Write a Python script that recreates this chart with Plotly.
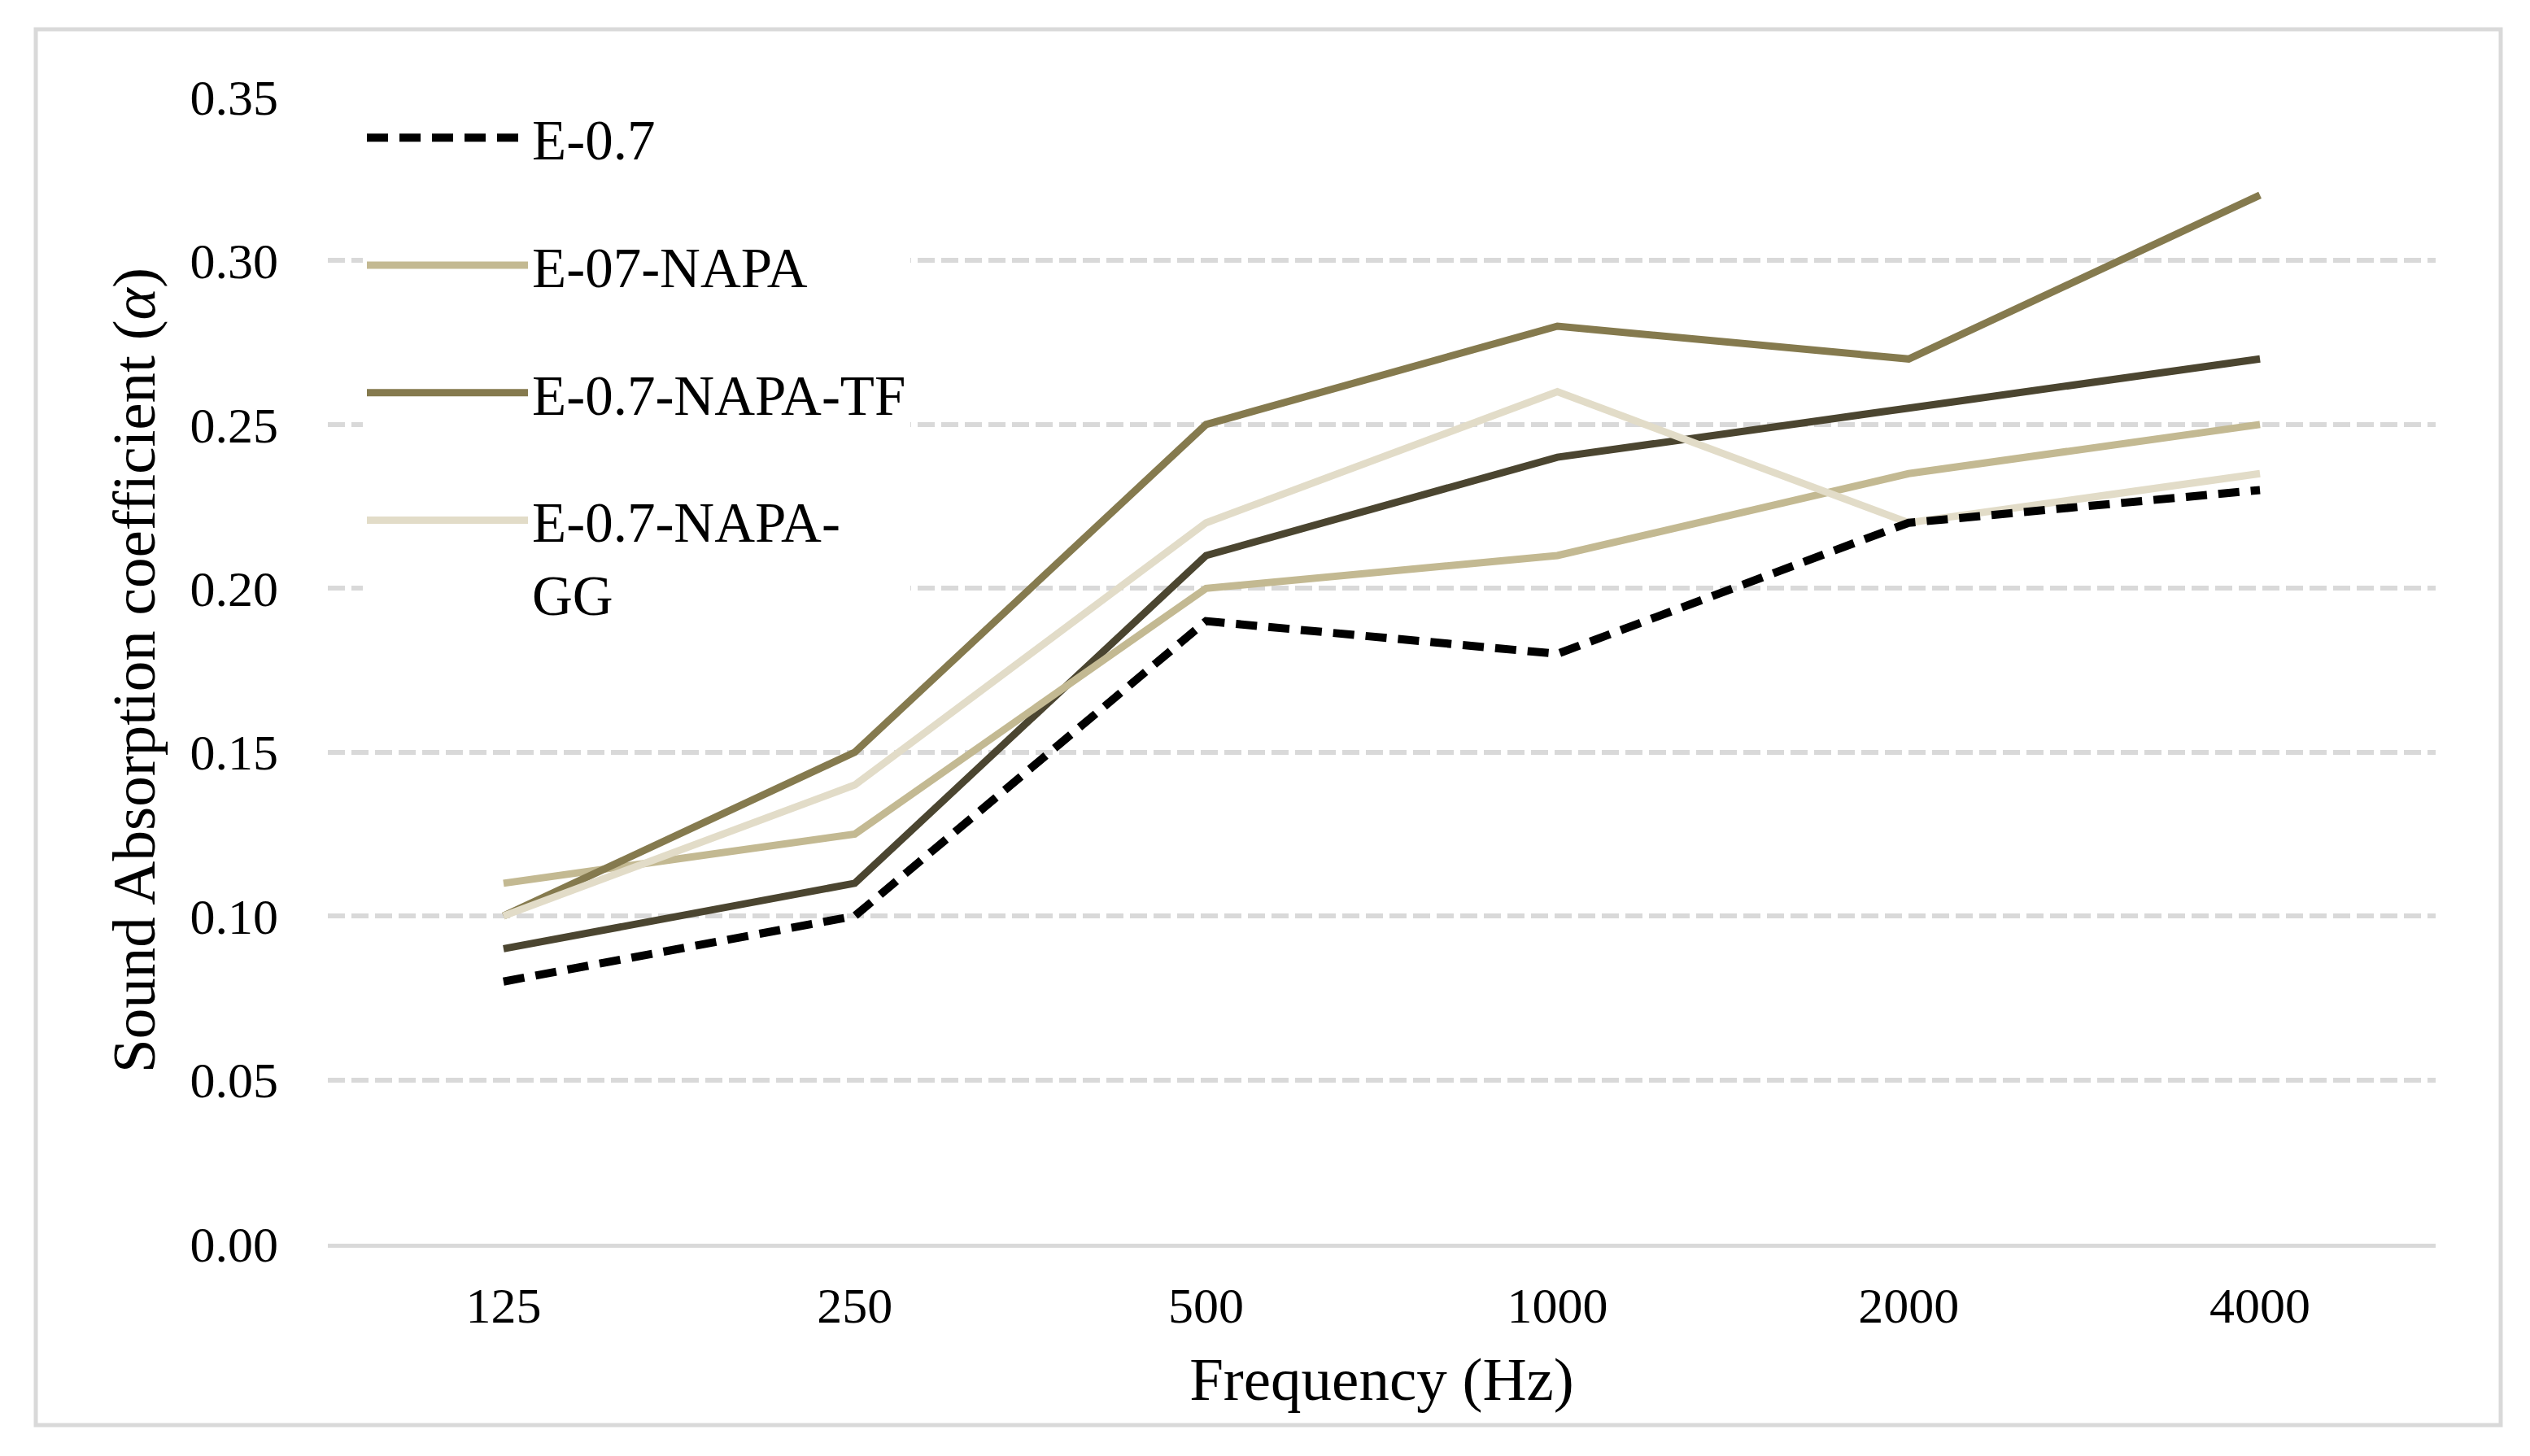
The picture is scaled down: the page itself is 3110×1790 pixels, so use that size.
import plotly.graph_objects as go

# ---- data ----
frequencies = ["125", "250", "500", "1000", "2000", "4000"]
e07 = [0.08, 0.10, 0.19, 0.18, 0.22, 0.23]
e07_napa = [0.11, 0.125, 0.20, 0.21, 0.235, 0.25]
e07_napa_tf = [0.10, 0.15, 0.25, 0.28, 0.27, 0.32]
e07_napa_gg = [0.10, 0.14, 0.22, 0.26, 0.22, 0.235]
series5 = [0.09, 0.11, 0.21, 0.24, 0.255, 0.27]
y_ticks = [0.00, 0.05, 0.10, 0.15, 0.20, 0.25, 0.30, 0.35]

# page geometry (page pixels); the html body adds an 8 px offset
OFF = 8
W, H = 3110 - 2 * OFF, 1790 - 2 * OFF
PLOT_L, PLOT_R, PLOT_T, PLOT_B = 403, 2994, 119, 1529
ML, MT = PLOT_L - OFF, PLOT_T - OFF
MR, MB = W - (PLOT_R - OFF), H - (PLOT_B - OFF)
PW, PH = PLOT_R - PLOT_L, PLOT_B - PLOT_T

def px_x(p):
    return (p - PLOT_L) / PW

def px_y(p):
    return (PLOT_B - p) / PH

FONT = "Liberation Serif, Times New Roman, serif"
GRID = "#d9d9d9"

fig = go.Figure()

fig.add_trace(go.Scatter(x=frequencies, y=series5, mode="lines", name="Series 5",
                         line=dict(color="#4b4530", width=9), showlegend=False))
fig.add_trace(go.Scatter(x=frequencies, y=e07_napa, mode="lines", name="E-07-NAPA",
                         line=dict(color="#c3b992", width=9), legendrank=2, legendgroup="b"))
fig.add_trace(go.Scatter(x=frequencies, y=e07_napa_tf, mode="lines", name="E-0.7-NAPA-TF",
                         line=dict(color="#857a4e", width=9), legendrank=3, legendgroup="c"))
fig.add_trace(go.Scatter(x=frequencies, y=e07_napa_gg, mode="lines", name="E-0.7-NAPA-<br>GG",
                         line=dict(color="#e2dcc8", width=9), legendrank=4, legendgroup="d"))
fig.add_trace(go.Scatter(x=frequencies, y=e07, mode="lines", name="E-0.7",
                         line=dict(color="#000000", width=10, dash="26px,14px"),
                         legendrank=1, legendgroup="a"))

fig.update_layout(
    width=W, height=H,
    margin=dict(l=ML, r=MR, t=MT, b=MB, autoexpand=False),
    paper_bgcolor="white", plot_bgcolor="white",
    font=dict(family=FONT, size=62, color="black"),
    showlegend=True,
    legend=dict(
        x=px_x(446), y=px_y(118), xanchor="left", yanchor="top",
        bgcolor="white", borderwidth=0,
        font=dict(family=FONT, size=69, color="black"),
        itemwidth=198, valign="top", tracegroupgap=64,
        traceorder="grouped",
    ),
    xaxis=dict(
        type="category", categoryorder="array", categoryarray=frequencies,
        range=[-0.5, len(frequencies) - 0.5],
        showgrid=False, zeroline=False,
        showline=True, linecolor=GRID, linewidth=5,
        ticks="", ticklabelstandoff=18,
        tickfont=dict(family=FONT, size=62, color="black"),
        title=dict(text="Frequency (Hz)", font=dict(family=FONT, size=75, color="black"), standoff=32),
    ),
    yaxis=dict(
        range=[0, 0.35], tickvals=y_ticks, tickformat=".2f",
        showgrid=True, gridcolor=GRID, gridwidth=6, griddash="21px,8px",
        zeroline=False, showline=False,
        ticks="", ticklabelstandoff=60,
        tickfont=dict(family=FONT, size=62, color="black"),
        title=dict(text="Sound Absorption coefficient (<i>α</i>)",
                   font=dict(family=FONT, size=75, color="black"), standoff=18),
    ),
    shapes=[dict(
        type="rect", xref="paper", yref="paper",
        x0=px_x(44), x1=px_x(3074), y0=px_y(1752), y1=px_y(36),
        line=dict(color=GRID, width=5), fillcolor="rgba(0,0,0,0)", layer="below",
    )],
)

fig.write_html("out.html")
